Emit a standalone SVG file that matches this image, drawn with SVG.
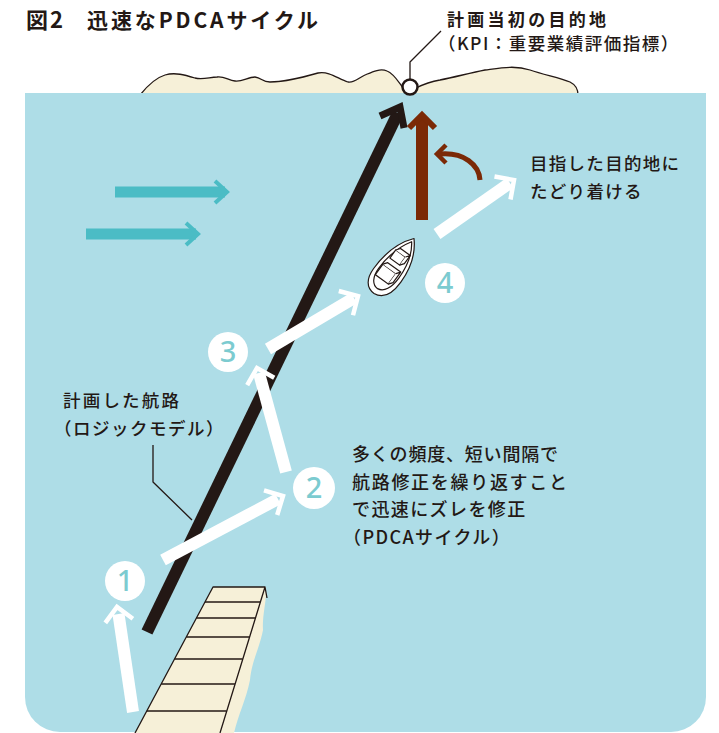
<svg xmlns="http://www.w3.org/2000/svg" width="719" height="733" viewBox="0 0 719 733">
  <defs>
    <style>
      .txt { font-family: 'Noto Sans CJK JP', 'Noto Sans', sans-serif; fill: #231815; font-weight: 500; }
      .bold { font-weight: 700; }
      .num { font-family: 'Noto Sans', 'Lato', sans-serif; font-weight: 500; font-size: 29px; fill: #7ccbd0; text-anchor: middle; }
      .ink { fill: none; stroke: #231815; stroke-width: 1.3; stroke-linejoin: round; }
      .wshaft { fill: none; stroke: #ffffff; stroke-width: 12; }
      .whead { fill: none; stroke: #ffffff; stroke-width: 4.5; stroke-linejoin: miter; }
      .tshaft { fill: none; stroke: #4bbcc5; stroke-width: 11; }
      .thead { fill: none; stroke: #4bbcc5; stroke-width: 4; }
      .badge { fill: #ffffff; }
      .cream { fill: #f6f0d8; }
    </style>
  </defs>

  <!-- title -->
  <text class="txt bold" x="26" y="28" font-size="22" letter-spacing="2">図2</text>
  <text class="txt bold" x="87" y="28" font-size="21" textLength="231" lengthAdjust="spacing">迅速なPDCAサイクル</text>

  <!-- island on the horizon -->
  <g id="island">
    <path class="cream" d="M140,95 C148,85 155,78 165,75 C175,72 185,75 195,78 C203,80 210,77 217,77 C224,76 228,80 235,81 C242,82 248,77 255,77 C262,78 262,82 270,82 C285,82 300,78 318,73 C330,71 338,79 348,82 C355,83 358,78 365,75 C372,72 380,68 387,71 C395,74 400,85 405,90 L416,88 C420,86 428,82 440,80 C455,77 470,73 485,70 C500,68 515,65 530,70 C545,75 560,78 570,82 C576,85 578,89 578,95 Z"/>
    <path class="ink" d="M140,95 C148,85 155,78 165,75 C175,72 185,75 195,78 C203,80 210,77 217,77 C224,76 228,80 235,81 C242,82 248,77 255,77 C262,78 262,82 270,82 C285,82 300,78 318,73 C330,71 338,79 348,82 C355,83 358,78 365,75 C372,72 380,68 387,71 C395,74 400,85 405,90 M416,88 C420,86 428,82 440,80 C455,77 470,73 485,70 C500,68 515,65 530,70 C545,75 560,78 570,82 C576,85 578,89 578,95"/>
  </g>

  <!-- sea -->
  <path id="sea" d="M25,93 H706 V697 A35,35 0 0 1 671,732 H60 A35,35 0 0 1 25,697 Z" fill="#aedde7"/>

  <!-- pier -->
  <g id="pier">
    <path class="cream" d="M213,587 L266,587 C267,600 262,615 263,630 C259,650 252,660 250,680 C246,700 238,715 234,733 L135,733 Z"/>
    <path class="ink" d="M135,733 L213,587 L265,587 L220,733 M265,587 L267,598"/>
    <g class="ink">
      <line x1="205" y1="602" x2="260.4" y2="602"/>
      <line x1="196.4" y1="618" x2="255.4" y2="618"/>
      <line x1="186.3" y1="637" x2="249.5" y2="637"/>
      <line x1="174.6" y1="659" x2="242.7" y2="659"/>
      <line x1="161.2" y1="684" x2="234.9" y2="684"/>
      <line x1="146.8" y1="711" x2="226.6" y2="711"/>
    </g>
  </g>

  <!-- current arrows -->
  <g id="current">
    <line class="tshaft" x1="115" y1="192" x2="225" y2="192"/>
    <polyline class="thead" points="215,181 227,192 215,203"/>
    <line class="tshaft" x1="86" y1="234" x2="196" y2="234"/>
    <polyline class="thead" points="186,223 198,234 186,245"/>
  </g>

  <g id="connectors">
    <!-- planned route -->
    <line x1="147" y1="632" x2="398" y2="113" stroke="#231815" stroke-width="12"/>
    <polyline points="380,116 400,107 404,128" fill="none" stroke="#231815" stroke-width="7" stroke-linejoin="miter"/>
    <!-- destination reached -->
    <line x1="422" y1="220" x2="422" y2="117" stroke="#7b2906" stroke-width="12"/>
    <polyline points="409,128 422,115 435,128" fill="none" stroke="#7b2906" stroke-width="6"/>
    <path d="M480,180 C479,165 464,152 440,154" fill="none" stroke="#7b2906" stroke-width="5"/>
    <polyline points="446,145 437,154 446,163" fill="none" stroke="#7b2906" stroke-width="4.5"/>

    <!-- PDCA steps -->
    <line class="wshaft" x1="133" y1="712" x2="118.5" y2="614"/>
    <polyline class="whead" points="105.3,622.9 117,607 132.9,618.7"/>
    <line class="wshaft" x1="163" y1="560" x2="278" y2="499"/>
    <polyline class="whead" points="264,490.3 283,496 277.2,515"/>
    <line class="wshaft" x1="286" y1="472" x2="259" y2="373"/>
    <polyline class="whead" points="247.2,385.2 257,368 274.2,377.8"/>
    <line class="wshaft" x1="268" y1="349" x2="354" y2="298"/>
    <polyline class="whead" points="338.8,291 358,296 353,315.2"/>
    <line class="wshaft" x1="437" y1="234" x2="510" y2="183"/>
    <polyline class="whead" points="494.5,176.5 514,180 510.5,199.5"/>

    <!-- leaders -->
    <polyline class="ink" points="153,445 153,482 192,520"/>
    <polyline class="ink" points="441,31 410,62 410,80"/>
  </g>

  <!-- destination marker -->
  <g id="goal">
    <circle cx="410" cy="87" r="7.5" fill="#ffffff" stroke="#231815" stroke-width="2.5"/>
  </g>

  <!-- ship: hull with two deck cabins, heading up-right -->
  <g id="ship" transform="rotate(36 394 266)" stroke="#231815" stroke-width="1.2" fill="#ffffff" stroke-linejoin="round">
    <path d="M394,232 C404,243 409,259 409,275 C409,290 404,299 394,300 C384,300 379,292 379,280 C379,262 384,244 394,232 Z"/>
    <path d="M394,236 C402,246 405,259 405,273 C405,285 401,293 394,294 C387,294 383,287 383,277 C383,261 387,247 394,236 Z" fill="none"/>
    <path d="M386,252 L398,252 L398,262 L386,262 Z"/>
    <path d="M386,252 L389,248 L401,248 L398,252 M398,252 L401,248 L401,258 L398,262"/>
    <path d="M384,271 L400,271 L400,284 L384,284 Z"/>
    <path d="M384,271 L387,267 L403,267 L400,271 M400,271 L403,267 L403,280 L400,284"/>
  </g>

  <!-- step badges -->
  <g id="step1"><circle class="badge" cx="125" cy="581" r="20"/><text class="num" x="125" y="591">1</text></g>
  <g id="step2"><circle class="badge" cx="314" cy="488" r="21"/><text class="num" x="314" y="498">2</text></g>
  <g id="step3"><circle class="badge" cx="228" cy="352" r="20"/><text class="num" x="228" y="362">3</text></g>
  <g id="step4"><circle class="badge" cx="445" cy="283" r="20"/><text class="num" x="445" y="293">4</text></g>

  <!-- labels -->
  <g id="label-goal">
    <text class="txt bold" x="447" y="26" font-size="17" textLength="159" lengthAdjust="spacing">計画当初の目的地</text>
    <text class="txt" x="438" y="50" font-size="17.5" letter-spacing="1.5">（KPI：重要業績評価指標）</text>
  </g>
  <g id="label-reach">
    <text class="txt" x="530" y="170" font-size="17.5" textLength="149" lengthAdjust="spacing">目指した目的地に</text>
    <text class="txt" x="530" y="198" font-size="17.5" letter-spacing="1.3">たどり着ける</text>
  </g>
  <g id="label-plan">
    <text class="txt" x="63" y="407" font-size="17.5" textLength="116" lengthAdjust="spacing">計画した航路</text>
    <text class="txt" x="54" y="435" font-size="17.5" letter-spacing="1.5">（ロジックモデル）</text>
  </g>
  <g id="label-pdca">
    <text class="txt" x="352" y="461" font-size="18" textLength="206" lengthAdjust="spacing">多くの頻度、短い間隔で</text>
    <text class="txt" x="352" y="489" font-size="18" textLength="215" lengthAdjust="spacing">航路修正を繰り返すこと</text>
    <text class="txt" x="352" y="516" font-size="18" letter-spacing="1.4">で迅速にズレを修正</text>
    <text class="txt" x="343" y="544" font-size="18" letter-spacing="1.4">（PDCAサイクル）</text>
  </g>
</svg>
